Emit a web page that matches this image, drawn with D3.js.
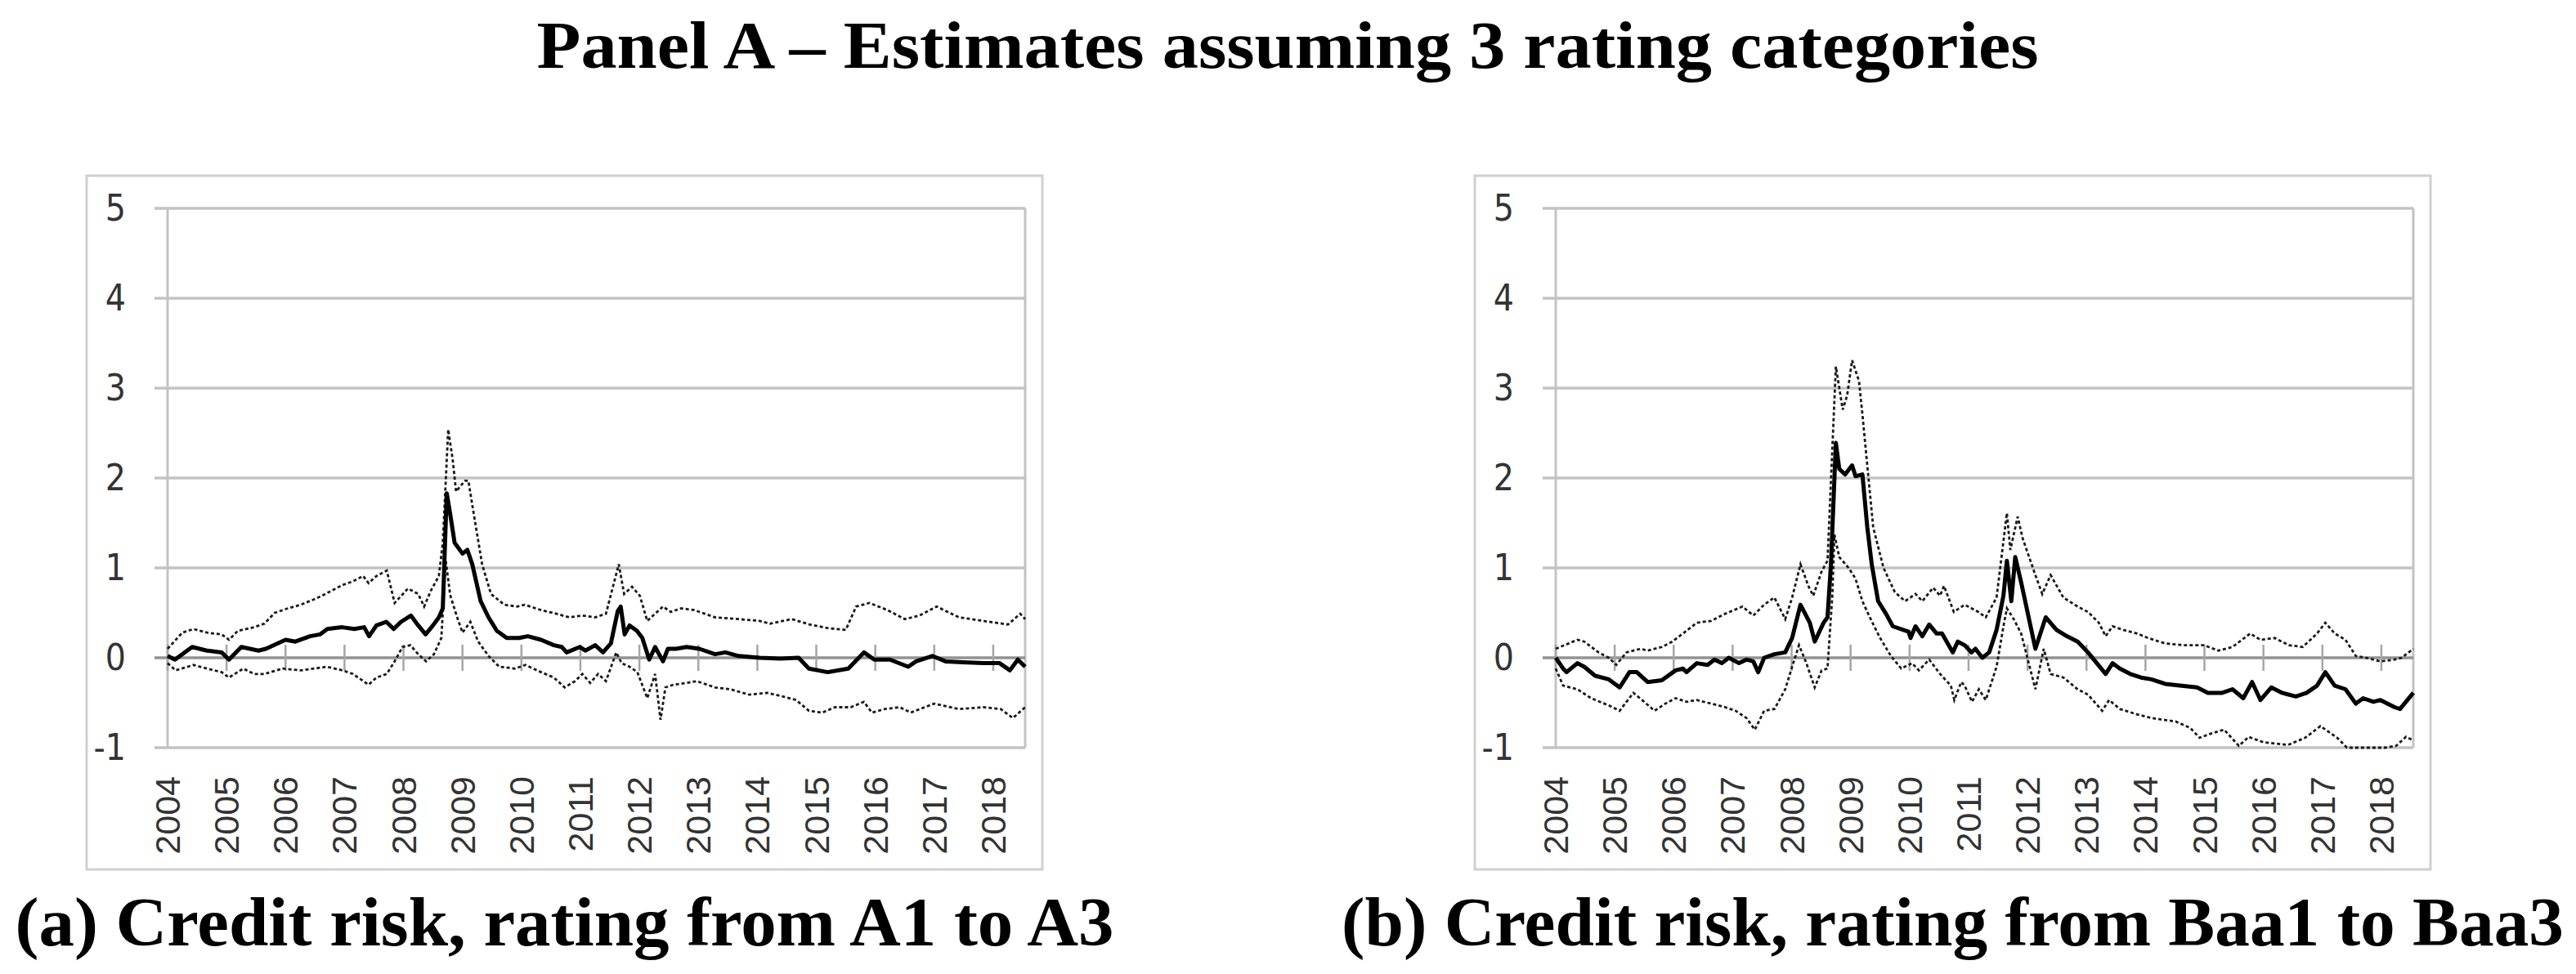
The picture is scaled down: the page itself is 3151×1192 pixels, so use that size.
<!DOCTYPE html>
<html>
<head>
<meta charset="utf-8">
<script src="https://cdn.jsdelivr.net/npm/d3@7"></script>
<style>
  body { margin: 0; background: #fff; }
  svg { display: block; }
</style>
</head>
<body>
<svg id="chart"></svg>
<script>
// months are counted from Jan 2004 (0)
const years = [2004, 2005, 2006, 2007, 2008, 2009, 2010, 2011, 2012, 2013, 2014, 2015, 2016, 2017, 2018];
const yTicks = [-1, 0, 1, 2, 3, 4, 5];

const meanA = [[0,0.02],[1.5,-0.02],[5,0.12],[8,0.08],[11,0.06],[12.5,-0.02],[15,0.12],[18.5,0.08],[20,0.1],[24,0.2],[26,0.18],[29,0.24],[31,0.26],[32.5,0.32],[35.5,0.34],[38,0.32],[40,0.34],[41,0.24],[42.5,0.36],[44.5,0.4],[46,0.32],[47.5,0.4],[49.5,0.47],[51,0.36],[52.5,0.26],[54,0.36],[55.2,0.45],[56,0.55],[56.8,1.83],[57.5,1.6],[58.4,1.28],[60,1.16],[61,1.2],[62,1.04],[63.7,0.63],[65.3,0.45],[67,0.3],[69,0.22],[71.5,0.22],[73.3,0.24],[76,0.2],[78.6,0.14],[80.2,0.12],[81.2,0.06],[83.9,0.12],[85,0.08],[87,0.14],[88.6,0.06],[90.2,0.16],[91.6,0.52],[92.2,0.57],[93,0.26],[94,0.36],[95.5,0.3],[96.6,0.22],[98,-0.02],[99.2,0.12],[100.8,-0.04],[101.8,0.1],[103.5,0.1],[105.6,0.12],[108.2,0.1],[111.4,0.04],[113.5,0.06],[116.2,0.02],[120.5,0],[124.7,-0.01],[128.4,0],[130.5,-0.12],[134.3,-0.16],[138.5,-0.12],[141.7,0.06],[143.8,-0.02],[147,-0.02],[150.7,-0.1],[152.3,-0.04],[155.6,0.02],[158.3,-0.04],[161.8,-0.05],[166,-0.06],[169.3,-0.06],[171.4,-0.14],[173,-0.02],[174.5,-0.1]];
const upperA = [[0,0.1],[3,0.28],[5.3,0.32],[8,0.28],[11,0.26],[12.5,0.2],[14.3,0.3],[17.6,0.34],[19.7,0.38],[21.8,0.5],[24.5,0.55],[27.1,0.59],[29.8,0.65],[31.4,0.69],[33.5,0.75],[35.6,0.81],[37.7,0.85],[39.8,0.91],[40.9,0.83],[42.5,0.91],[44.6,0.97],[46.2,0.61],[48.9,0.77],[51,0.71],[52.2,0.57],[53.6,0.75],[55.2,0.91],[56,1.28],[57.1,2.54],[58,2.21],[58.7,1.85],[60.5,1.97],[61.2,1.97],[62.3,1.6],[64,1.04],[65.8,0.71],[68.5,0.59],[71.1,0.57],[72.7,0.59],[76,0.53],[79.1,0.49],[81.7,0.45],[84.4,0.47],[87,0.45],[89.2,0.49],[91.8,1.04],[92.9,0.71],[94.5,0.79],[96.1,0.69],[97.6,0.41],[99.2,0.49],[100.8,0.57],[102.4,0.51],[104.5,0.55],[107.2,0.53],[111.4,0.45],[116.2,0.43],[120.5,0.41],[122.6,0.38],[127,0.43],[130.7,0.37],[134.3,0.33],[138,0.31],[140.1,0.57],[142.8,0.61],[146.5,0.53],[150,0.43],[153,0.47],[156.5,0.57],[161,0.45],[166,0.41],[171,0.37],[173.5,0.49],[174.5,0.43]];
const lowerA = [[0,-0.06],[1.6,-0.14],[5.3,-0.08],[8,-0.12],[11,-0.16],[12.5,-0.22],[15.4,-0.12],[17.6,-0.18],[19.7,-0.18],[23.4,-0.12],[27.1,-0.14],[29.8,-0.12],[32.4,-0.1],[35.6,-0.14],[37.7,-0.18],[40.9,-0.3],[42.5,-0.22],[44.6,-0.18],[46.2,-0.04],[47.8,0.12],[49.4,0.14],[51,0.04],[52.6,-0.04],[54.2,0.04],[55.7,0.22],[56.6,1.08],[57.5,0.7],[58.8,0.47],[60,0.28],[61.6,0.4],[63.2,0.18],[65.3,0.02],[67.5,-0.1],[70.7,-0.12],[72.8,-0.08],[76,-0.16],[78.6,-0.22],[80.8,-0.33],[82.9,-0.26],[84.4,-0.18],[86,-0.28],[87.6,-0.18],[89.2,-0.26],[91.3,0.06],[92.4,-0.06],[94,-0.1],[95.6,-0.16],[97.6,-0.45],[99.2,-0.18],[100.3,-0.69],[101.3,-0.33],[102.9,-0.3],[105.6,-0.28],[107.7,-0.26],[111.4,-0.33],[114.5,-0.35],[118.3,-0.41],[122,-0.39],[125.2,-0.43],[127.9,-0.47],[130.5,-0.59],[133.2,-0.61],[135.8,-0.55],[139,-0.55],[141.7,-0.49],[143.3,-0.61],[146,-0.57],[149,-0.55],[151.2,-0.61],[156,-0.51],[161,-0.57],[166,-0.55],[169.5,-0.57],[172,-0.67],[174.5,-0.55]];

const meanB = [[0,0],[1.5,-0.12],[2.2,-0.16],[4.4,-0.06],[5.8,-0.1],[8,-0.2],[10.8,-0.24],[13,-0.33],[15,-0.16],[16.5,-0.16],[18.7,-0.27],[21.6,-0.25],[24.4,-0.14],[25.9,-0.12],[26.6,-0.16],[28.7,-0.06],[30.9,-0.08],[32.3,-0.02],[33.8,-0.06],[35.2,0],[37.3,-0.06],[38.8,-0.02],[40.2,-0.04],[41.2,-0.16],[42.4,0],[44.5,0.04],[46.7,0.06],[48.1,0.22],[49.8,0.59],[51.7,0.39],[52.7,0.18],[54.5,0.39],[55.3,0.45],[56,1.04],[57,2.39],[57.7,2.1],[58.9,2.04],[60.3,2.14],[61,2.02],[62.4,2.04],[63.4,1.45],[64.3,1.04],[65.6,0.63],[67.2,0.49],[68.6,0.35],[71.8,0.29],[72.2,0.22],[73.2,0.35],[74.6,0.24],[76,0.37],[77.5,0.27],[78.6,0.27],[80.8,0.06],[81.8,0.18],[83.2,0.14],[84.6,0.06],[85.4,0.1],[86.8,0],[88.2,0.06],[89.7,0.31],[91.1,0.69],[91.8,1.08],[92.7,0.63],[93.5,1.12],[94.7,0.84],[97.6,0.1],[99.7,0.45],[101.9,0.31],[104,0.24],[106.2,0.18],[107.6,0.1],[108.3,0.06],[111.9,-0.18],[113.3,-0.06],[114.8,-0.12],[116.9,-0.18],[119.1,-0.22],[121.2,-0.24],[124,-0.29],[127,-0.31],[130.5,-0.33],[132.7,-0.39],[135.6,-0.39],[137.7,-0.35],[139.9,-0.45],[141.7,-0.27],[143.4,-0.47],[145.6,-0.33],[147.8,-0.39],[150.6,-0.43],[152.8,-0.39],[154.9,-0.31],[156.6,-0.16],[158.5,-0.31],[160.7,-0.35],[162.8,-0.51],[164.3,-0.45],[166.4,-0.49],[167.8,-0.47],[170.7,-0.55],[171.8,-0.57],[174.5,-0.39]];
const upperB = [[0,0.1],[4.4,0.2],[5.8,0.18],[8.7,0.06],[10.8,0],[12.3,-0.08],[14.4,0.06],[17.3,0.1],[18.7,0.08],[21.6,0.12],[23.7,0.18],[25.9,0.27],[28.7,0.39],[31.6,0.41],[34.5,0.49],[38,0.57],[40.2,0.47],[42.4,0.59],[44.5,0.67],[46.7,0.43],[48.1,0.67],[49.8,1.04],[51.4,0.8],[52.4,0.69],[54.1,0.96],[55.3,1.08],[57,3.24],[58.4,2.76],[59.3,2.92],[60.3,3.31],[61.7,3.08],[62.4,2.71],[64.6,1.45],[66.7,1],[69,0.73],[71.1,0.63],[73.2,0.71],[74.6,0.63],[76.8,0.78],[78.2,0.69],[79,0.8],[81,0.51],[83.2,0.59],[86,0.51],[87.5,0.45],[89.7,0.67],[91.8,1.61],[92.5,1.2],[94,1.57],[95,1.33],[97.6,0.92],[99,0.71],[100.7,0.92],[103.3,0.67],[106.2,0.57],[108.3,0.51],[110.5,0.39],[111.9,0.24],[113.3,0.35],[115.5,0.31],[118.3,0.27],[120.5,0.22],[124,0.16],[127.7,0.14],[131.9,0.14],[134.8,0.08],[137.7,0.12],[141.3,0.27],[143.4,0.2],[146.3,0.22],[149.2,0.14],[152,0.12],[154.9,0.27],[156.6,0.39],[158.5,0.27],[160.7,0.2],[162.8,0.02],[164.9,0],[167.8,-0.04],[170.7,-0.02],[172.1,0],[174.5,0.1]];
const lowerB = [[0,-0.12],[1.5,-0.31],[4.4,-0.35],[7.2,-0.45],[10.8,-0.53],[13,-0.59],[15.8,-0.39],[18,-0.49],[20.1,-0.59],[22.3,-0.51],[24.4,-0.45],[26.6,-0.49],[28.7,-0.47],[31.6,-0.51],[34.5,-0.55],[36.6,-0.59],[38.8,-0.67],[40.5,-0.8],[42.4,-0.59],[44.5,-0.57],[46.7,-0.35],[48.1,-0.1],[49.5,0.14],[51,-0.06],[52.7,-0.33],[54.1,-0.14],[55.3,-0.12],[56.3,0.71],[56.7,1.37],[57.7,1.12],[59.6,1],[61,0.88],[62.4,0.63],[63.9,0.45],[66,0.22],[68.2,0.02],[70.3,-0.12],[72.5,-0.06],[73.9,-0.14],[76,-0.02],[78.2,-0.18],[80.4,-0.31],[81.1,-0.47],[82.5,-0.27],[83.2,-0.31],[84.7,-0.49],[86.1,-0.35],[87.5,-0.47],[89.7,-0.1],[91.1,0.35],[91.8,0.55],[93.2,0.43],[94.7,0.27],[97.6,-0.35],[99.3,0.1],[100.7,-0.18],[103.3,-0.22],[106.2,-0.35],[108.3,-0.41],[111.2,-0.59],[112.6,-0.47],[114.8,-0.57],[118.3,-0.63],[121.2,-0.67],[126.2,-0.71],[129.1,-0.78],[131,-0.89],[133.5,-0.84],[136,-0.8],[139,-0.98],[141,-0.88],[144,-0.94],[149,-0.97],[152.5,-0.89],[155.6,-0.76],[159,-0.89],[161,-1],[164.5,-1],[168.7,-1],[171,-0.98],[173,-0.88],[174.5,-0.92]];

const title = "Panel A – Estimates assuming 3 rating categories";
const panels = [
    { caption: "(a) Credit risk, rating from A1 to A3", capWidth: 1344, mean: meanA, upper: upperA, lower: lowerA, left: 106 },
    { caption: "(b) Credit risk, rating from Baa1 to Baa3", capWidth: 1495, mean: meanB, upper: upperB, lower: lowerB, left: 1804 }
];

const width = 3151, height = 1192;
const frame = { top: 215, w: 1169, h: 849 };
const plot = { left: 99, right: 1148, top: 40, bottom: 700 };

const svg = d3.select("#chart")
    .attr("width", width)
    .attr("height", height);

svg.append("text")
    .attr("x", 1575)
    .attr("y", 83)
    .attr("text-anchor", "middle")
    .attr("font-family", "'Liberation Serif', 'Times New Roman', serif")
    .attr("font-weight", "bold")
    .attr("font-size", 82)
    .attr("textLength", 1837)
    .attr("lengthAdjust", "spacingAndGlyphs")
    .text(title);

panels.forEach(p => {
    const g = svg.append("g").attr("transform", `translate(${p.left},${frame.top})`);

    g.append("rect")
        .attr("x", 0).attr("y", 0)
        .attr("width", frame.w).attr("height", frame.h)
        .attr("fill", "none")
        .attr("stroke", "#d0d0d0")
        .attr("stroke-width", 3);

    const x = d3.scaleLinear().domain([0, 174.5]).range([plot.left, plot.right]);
    const y = d3.scaleLinear().domain([-1, 5]).range([plot.bottom, plot.top]);

    // horizontal gridlines, they run through the outside tick marks
    g.append("g")
        .selectAll("line")
        .data(yTicks.filter(t => t !== 0))
        .join("line")
        .attr("x1", plot.left - 16)
        .attr("x2", plot.right)
        .attr("y1", d => y(d))
        .attr("y2", d => y(d))
        .attr("stroke", "#c3c3c3")
        .attr("stroke-width", 3.5);

    // plot area sides
    g.append("g")
        .selectAll("line")
        .data([plot.left, plot.right])
        .join("line")
        .attr("x1", d => d).attr("x2", d => d)
        .attr("y1", y(5)).attr("y2", y(-1))
        .attr("stroke", "#c3c3c3")
        .attr("stroke-width", 3);

    // y labels
    g.append("g")
        .attr("transform", `translate(${plot.left},0)`)
        .call(d3.axisLeft(y).tickValues(yTicks).tickSize(0).tickPadding(51).tickFormat(d => String(d)))
        .call(a => a.select(".domain").remove())
        .selectAll("text")
        .attr("font-family", "'Liberation Sans Narrow', 'DejaVu Sans Condensed', 'Liberation Sans', sans-serif")
        .attr("font-size", 44)
        .attr("fill", "#333");

    // category axis across zero
    g.append("line")
        .attr("x1", plot.left - 16).attr("x2", plot.right)
        .attr("y1", y(0)).attr("y2", y(0))
        .attr("stroke", "#929292")
        .attr("stroke-width", 3.5);

    g.append("g")
        .selectAll("line")
        .data(years)
        .join("line")
        .attr("x1", (d, i) => x(i * 12)).attr("x2", (d, i) => x(i * 12))
        .attr("y1", y(0) - 16).attr("y2", y(0) + 16)
        .attr("stroke", "#a6a6a6")
        .attr("stroke-width", 2.5);

    g.append("g")
        .selectAll("text")
        .data(years)
        .join("text")
        .attr("transform", (d, i) => `translate(${x(i * 12)},${735}) rotate(-90)`)
        .attr("text-anchor", "end")
        .attr("dominant-baseline", "central")
        .attr("font-family", "'Liberation Sans', Arial, sans-serif")
        .attr("font-size", 43)
        .attr("fill", "#333")
        .text(d => d);

    const line = d3.line().x(d => x(d[0])).y(d => y(d[1]));

    [p.upper, p.lower].forEach(s => {
        g.append("path")
            .datum(s)
            .attr("d", line)
            .attr("fill", "none")
            .attr("stroke", "#1a1a1a")
            .attr("stroke-width", 2.8)
            .attr("stroke-dasharray", "4 3");
    });

    g.append("path")
        .datum(p.mean)
        .attr("d", line)
        .attr("fill", "none")
        .attr("stroke", "#000")
        .attr("stroke-width", 5)
        .attr("stroke-linejoin", "round");

    svg.append("text")
        .attr("x", p.left + frame.w / 2)
        .attr("y", 1157)
        .attr("text-anchor", "middle")
        .attr("font-family", "'Liberation Serif', 'Times New Roman', serif")
        .attr("font-weight", "bold")
        .attr("font-size", 84)
        .attr("textLength", p.capWidth)
        .attr("lengthAdjust", "spacingAndGlyphs")
        .text(p.caption);
});
</script>
</body>
</html>
